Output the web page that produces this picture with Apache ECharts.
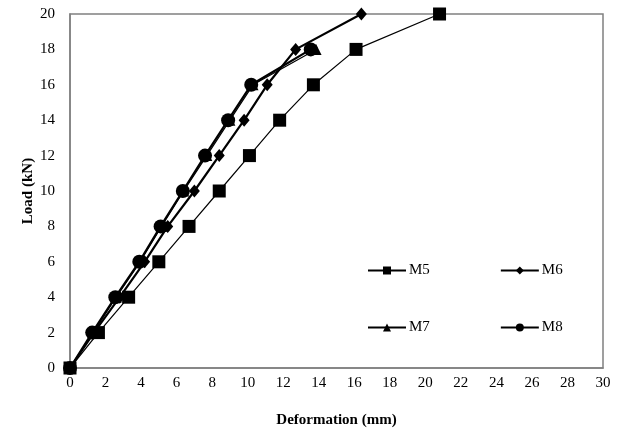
<!DOCTYPE html>
<html>
<head>
    <meta charset="utf-8">
    <title>Load vs Deformation</title>
    <script src="https://cdn.jsdelivr.net/npm/echarts@6/dist/echarts.min.js"></script>
</head>
<body style="margin:0;background:#fff;">
    <div id="main" style="width:629px;height:435px;"></div>

    <script type="text/javascript">
        // load steps (kN), shared by all specimens
        var loadM5 = [0, 2, 4, 6, 8, 10, 12, 14, 16, 18, 20];
        var defM5  = [0, 1.6, 3.3, 5.0, 6.7, 8.4, 10.1, 11.8, 13.7, 16.1, 20.8];

        var loadM6 = [0, 2, 4, 6, 8, 10, 12, 14, 16, 18, 20];
        var defM6  = [0, 1.35, 2.8, 4.2, 5.5, 7.0, 8.4, 9.8, 11.1, 12.7, 16.4];

        var loadM7 = [0, 2, 4, 6, 8, 10, 12, 14, 16, 18];
        var defM7  = [0, 1.3, 2.6, 3.95, 5.15, 6.4, 7.7, 9.0, 10.3, 13.85];

        var loadM8 = [0, 2, 4, 6, 8, 10, 12, 14, 16, 18];
        var defM8  = [0, 1.25, 2.55, 3.9, 5.1, 6.35, 7.6, 8.9, 10.2, 13.55];

        function pairs(xs, ys) {
            var out = [];
            for (var i = 0; i < xs.length; i++) {
                out.push([xs[i], ys[i]]);
            }
            return out;
        }

        var serif = 'Liberation Serif';
        var axisGray = '#808080';

        var option = {
            backgroundColor: '#fff',
            animation: false,
            textStyle: { fontFamily: serif },
            grid: {
                left: 70, right: 26, top: 14, bottom: 67,
                show: true, borderColor: axisGray, borderWidth: 1.5
            },
            legend: [{
                data: ['M5', 'M6'],
                left: 362, top: 258,
                itemWidth: 38, itemHeight: 10, itemGap: 70,
                textStyle: { fontFamily: serif, fontSize: 15, color: '#000', padding: [0, 0, 0, -2] }
            }, {
                data: ['M7', 'M8'],
                left: 362, top: 315,
                itemWidth: 38, itemHeight: 10, itemGap: 70,
                textStyle: { fontFamily: serif, fontSize: 15, color: '#000', padding: [0, 0, 0, -2] }
            }],
            xAxis: {
                type: 'value', min: 0, max: 30, interval: 2,
                name: 'Deformation (mm)', nameLocation: 'middle', nameGap: 45,
                nameMoveOverlap: false,
                nameTextStyle: { fontFamily: serif, fontSize: 15, fontWeight: 'bold', color: '#000' },
                axisLine: { lineStyle: { color: axisGray, width: 1.5 } },
                axisTick: { show: false },
                splitLine: { show: false },
                axisLabel: { fontFamily: serif, fontSize: 15, color: '#000', margin: 8 }
            },
            yAxis: {
                type: 'value', min: 0, max: 20, interval: 2,
                name: 'Load (kN)', nameLocation: 'middle', nameGap: 34,
                nameMoveOverlap: false,
                nameTextStyle: { fontFamily: serif, fontSize: 15, fontWeight: 'bold', color: '#000' },
                axisLine: { show: true, lineStyle: { color: axisGray, width: 1.5 } },
                axisTick: { show: false },
                splitLine: { show: false },
                axisLabel: { fontFamily: serif, fontSize: 15, color: '#000', margin: 15 }
            },
            series: [{
                name: 'M5', type: 'line', data: pairs(defM5, loadM5),
                symbol: 'rect', symbolSize: 13, clip: false, z: 5,
                lineStyle: { color: '#000', width: 1.2 },
                itemStyle: { color: '#000' }
            }, {
                name: 'M6', type: 'line', data: pairs(defM6, loadM6),
                symbol: 'diamond', symbolSize: [11, 13], clip: false, z: 2,
                lineStyle: { color: '#000', width: 2.2 },
                itemStyle: { color: '#000' }
            }, {
                name: 'M7', type: 'line', data: pairs(defM7, loadM7),
                symbol: 'triangle', symbolSize: 11, clip: false, z: 3,
                lineStyle: { color: '#000', width: 1.2 },
                itemStyle: { color: '#000' }
            }, {
                name: 'M8', type: 'line', data: pairs(defM8, loadM8),
                symbol: 'circle', symbolSize: 14, clip: false, z: 4,
                lineStyle: { color: '#000', width: 2.2 },
                itemStyle: { color: '#000' }
            }]
        };

        var myChart = echarts.init(document.getElementById('main'));
        myChart.setOption(option);
    </script>
</body>
</html>
